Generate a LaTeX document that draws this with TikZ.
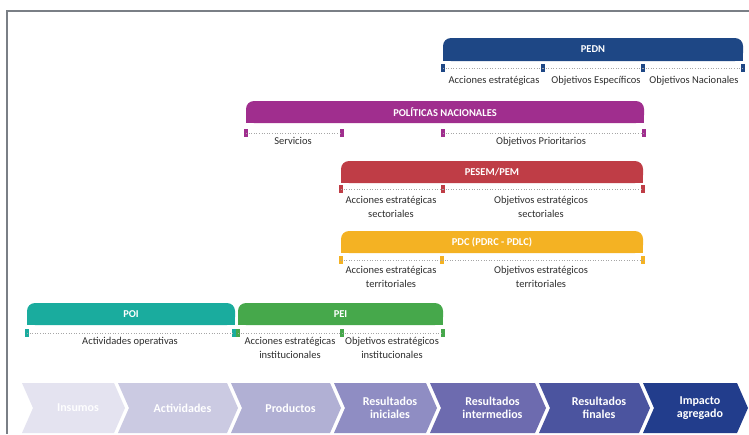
\documentclass[tikz,border=0pt]{standalone}
\usepackage{fontspec}
\setmainfont{Carlito}
\definecolor{cpedn}{HTML}{1E4785}
\definecolor{cpol}{HTML}{A02E8E}
\definecolor{cpesem}{HTML}{BF3D46}
\definecolor{cpdc}{HTML}{F4B223}
\definecolor{cpoi}{HTML}{1AAC9E}
\definecolor{cpei}{HTML}{46A84B}
\definecolor{ch1}{HTML}{E4E3F0}
\definecolor{ch2}{HTML}{CBCAE2}
\definecolor{ch3}{HTML}{B1B0D4}
\definecolor{ch4}{HTML}{8F8DC3}
\definecolor{ch5}{HTML}{6D6BAF}
\definecolor{ch6}{HTML}{4B549F}
\definecolor{ch7}{HTML}{223D8C}
\definecolor{frameg}{HTML}{7A7F86}
\definecolor{txt}{HTML}{2E2E2E}
\tikzset{
  bartitle/.style={text=white,font=\fontsize{10.5}{12}\selectfont\bfseries,inner sep=0pt},
  lbl/.style={text=txt,font=\fontsize{10.5}{14.5}\selectfont,align=center,inner sep=0pt,anchor=north},
  dotline/.style={draw=gray!70,dotted,line width=0.6pt},
  chevtxt/.style={text=white,font=\fontsize{12}{13.5}\selectfont\bfseries,align=center,inner sep=0pt},
  frameline/.style={draw=frameg,line width=1.2pt}
}
% bar: name, x1, x2, ytop, ybot, colour, title
\newcommand\planbar[7]{%
  \fill[#6,rounded corners=8pt] (#2,#4) rectangle (#3,#5);
  \fill[#6] (#2,{#4+10}) rectangle (#3,#5);
  \node[bartitle] (#1) at ({(#2+#3)/2},{(#4+#5)/2}) {#7};
}
% tick: name, x, y, colour
\newcommand\plantick[4]{%
  \coordinate (#1) at (#2,#3);
  \fill[#4] ({#2-1.6},{#3-3.8}) rectangle ({#2+1.6},{#3+3.8});
}
% chevron: name, notch x, tip x, colour, text
\newcommand\planchev[5]{%
  \fill[#4] ({#2-11},383) -- ({#3-15},383) -- ({#3-4},408) -- ({#3-15},433) -- ({#2-11},433) -- (#2,408) -- cycle;
  \node[chevtxt] (#1) at ({(#2+#3)/2-3},408) {#5};
}
\begin{document}
\begin{tikzpicture}[x=1pt,y=-1pt]
\useasboundingbox (0,0) rectangle (749,434);
\fill[white] (0,0) rectangle (749,434);
\draw[frameline] (749,11) -- (7,11) -- (7,434);

% PEDN
\planbar{pedn}{443}{743}{38}{61}{cpedn}{PEDN}
\plantick{pa}{443}{68}{cpedn}
\plantick{pb}{543}{68}{cpedn}
\plantick{pc}{643}{68}{cpedn}
\plantick{pd}{743}{68}{cpedn}
\draw[dotline] (pa) -- (pb);
\draw[dotline] (pb) -- (pc);
\draw[dotline] (pc) -- (pd);
\node[lbl] (pl1) at (494,76) {Acciones estratégicas};
\node[lbl] (pl2) at (596,76) {Objetivos Específicos};
\node[lbl] (pl3) at (694,76) {Objetivos Nacionales};

% Politicas nacionales
\planbar{pol}{246}{644}{101}{123}{cpol}{POLÍTICAS NACIONALES}
\plantick{qa}{246}{133}{cpol}
\plantick{qb}{342}{133}{cpol}
\plantick{qc}{443}{133}{cpol}
\plantick{qd}{644}{133}{cpol}
\draw[dotline] (qa) -- (qb);
\draw[dotline] (qc) -- (qd);
\node[lbl] (ql1) at (293,137) {Servicios};
\node[lbl] (ql2) at (541,137) {Objetivos Prioritarios};

% PESEM/PEM
\planbar{pesem}{341}{643}{161}{183}{cpesem}{PESEM/PEM}
\plantick{ra}{341}{189}{cpesem}
\plantick{rb}{443}{189}{cpesem}
\plantick{rc}{643}{189}{cpesem}
\draw[dotline] (ra) -- (rb);
\draw[dotline] (rb) -- (rc);
\node[lbl] (rl1) at (391,196) {Acciones estratégicas\\sectoriales};
\node[lbl] (rl2) at (541,196) {Objetivos estratégicos\\sectoriales};

% PDC
\planbar{pdc}{341}{643}{231}{253}{cpdc}{PDC (PDRC - PDLC)}
\plantick{sa}{341}{260}{cpdc}
\plantick{sb}{442}{260}{cpdc}
\plantick{sc}{643}{260}{cpdc}
\draw[dotline] (sa) -- (sb);
\draw[dotline] (sb) -- (sc);
\node[lbl] (sl1) at (391,266) {Acciones estratégicas\\territoriales};
\node[lbl] (sl2) at (541,266) {Objetivos estratégicos\\territoriales};

% POI
\planbar{poi}{27}{235}{303}{325}{cpoi}{POI}
\plantick{ta}{27}{333}{cpoi}
\plantick{tb}{234}{333}{cpoi}
\draw[dotline] (ta) -- (tb);
\node[lbl] (tl1) at (130,337) {Actividades operativas};

% PEI
\planbar{pei}{238}{443}{303}{325}{cpei}{PEI}
\plantick{ua}{238}{333}{cpei}
\plantick{ub}{342}{333}{cpei}
\plantick{uc}{443}{333}{cpei}
\draw[dotline] (ua) -- (ub);
\draw[dotline] (ub) -- (uc);
\node[lbl] (ul1) at (290,337) {Acciones estratégicas\\institucionales};
\node[lbl] (ul2) at (392,337) {Objetivos estratégicos\\institucionales};

% chevrons
\planchev{c1}{33}{129}{ch1}{\textcolor{white!92!ch1}{Insumos}}
\planchev{c2}{129}{242}{ch2}{Actividades}
\planchev{c3}{242}{345}{ch3}{Productos}
\planchev{c4}{345}{441}{ch4}{Resultados\\iniciales}
\planchev{c5}{441}{550}{ch5}{Resultados\\intermedios}
\planchev{c6}{550}{654}{ch6}{Resultados\\finales}
\planchev{c7}{654}{752}{ch7}{Impacto\\agregado}
\end{tikzpicture}
\end{document}
